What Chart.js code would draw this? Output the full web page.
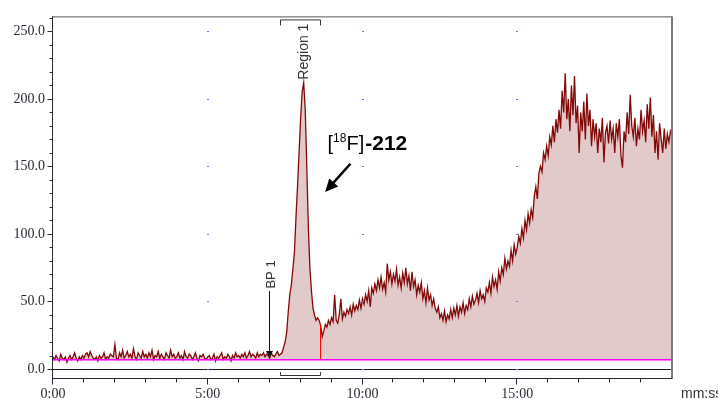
<!DOCTYPE html>
<html>
<head>
<meta charset="utf-8">
<script src="https://cdn.jsdelivr.net/npm/chart.js@4.4.1/dist/chart.umd.min.js"></script>
<style>
html,body{margin:0;padding:0;background:#fff;overflow:hidden}
canvas{display:block}
</style>
</head>
<body>
<canvas id="c" width="718" height="399"></canvas>
<script>
// ---- data ----
const sampleStepMin = 0.05;          // sampling interval of the trace (minutes)
const signal = [
  // 0:00
  9,7,10,8,6,11,8,7,9,5,8,10,7,9,12,8,6,9,7,10,
  // 1:00
  8,11,12,9,13,10,8,7,9,6,10,8,9,12,7,9,8,11,10,9,
  // 2:00
  18,8,7,12,9,14,8,10,13,9,11,8,15,9,7,12,10,8,13,9,
  // 3:00
  11,8,12,9,14,7,10,9,13,8,11,9,7,12,10,8,14,9,11,8,
  // 4:00
  9,12,8,10,7,13,9,8,11,10,7,9,12,8,6,10,9,11,8,7,
  // 5:00
  9,10,7,8,11,6,9,8,10,12,7,9,8,11,9,6,10,8,12,9,
  // 6:00
  10,8,11,9,12,8,10,13,9,11,10,8,12,9,11,10,12,9,11,10,
  // 7:00
  8,12,10,9,11,13,10,11,12,16,20,27,42,55,62,74,86,112,135,160,
  // 8:00
  185,205,212,192,150,105,75,58,45,40,36,38,36,32,24,28,33,31,36,33,
  // 9:00
  38,35,55,36,34,40,52,37,42,39,44,41,46,40,48,43,47,44,51,45,
  // 10:00
  52,48,55,50,58,46,60,56,63,58,66,60,68,59,64,57,78,66,72,63,
  // 11:00
  70,65,74,62,68,60,71,64,75,63,69,58,72,61,66,55,62,57,64,52,
  // 12:00
  58,49,60,51,55,47,52,45,42,46,38,41,36,43,35,40,37,44,38,45,
  // 13:00
  40,47,39,46,42,49,41,47,44,52,46,54,48,51,56,49,58,52,55,50,
  // 14:00
  60,57,64,56,68,61,66,59,72,65,75,70,82,74,80,76,88,80,92,85,
  // 15:00
  90,98,93,104,97,110,103,115,108,118,112,128,135,126,145,150,146,160,155,165,
  // 16:00
  158,172,166,180,168,185,175,192,178,206,190,219,185,200,176,210,188,217,182,195,
  // 17:00
  160,190,176,198,170,204,180,192,165,185,172,182,160,178,168,186,153,175,180,167,
  // 18:00
  184,170,178,160,182,172,185,158,149,176,168,190,174,203,180,172,186,165,178,170,
  // 19:00
  192,176,184,168,196,178,201,172,188,160,176,155,182,170,160,178,163,174,168,176,
  // 20:00
  173
];
const baselineLevel = 7.0;           // integration baseline (magenta)
const yTickValues = [0, 50, 100, 150, 200, 250];
const yMinorStep = 10;
const xTickMinutes = [0, 5, 10, 15];
const xMinorStep = 1;
const xRange = [0, 20];
const yRange = [-6.66, 261.1];
const xUnitLabel = 'mm:ss';
const regionStart = 7.35, regionEnd = 8.63, regionLabel = 'Region 1';
const bpTime = 6.97, bpLabel = 'BP 1';
const peakNameParts = { open: '[', iso: '18', elem: 'F]', code: '-212' };
const peakNameAnchor = { t: 8.87, v: 162 };
const peakArrowFrom = { t: 9.61, v: 152 };
const peakArrowTo = { t: 8.79, v: 131 };
const bpArrowTop = 57.7, bpArrowTip = 8.2, bpLabelCenter = 70;
const regionLabelCenter = 235;

// ---- helpers ----
function valueAt(t) {
  const f = t / sampleStepMin;
  const i = Math.floor(f), r = f - i;
  const a = signal[i], b = signal[Math.min(i + 1, signal.length - 1)];
  return a + (b - a) * r;
}
function fmtMin(v) { return v + ':00'; }

const seriesPoints = signal.map((v, i) => ({ x: +(i * sampleStepMin).toFixed(2), y: v }));

const AXIS = '#2a2a36';

const overlay = {
  id: 'overlay',
  beforeDraw(chart) {
    const c = chart.ctx;
    c.save(); c.fillStyle = '#fff'; c.fillRect(0, 0, chart.width, chart.height); c.restore();
  },
  afterDatasetsDraw(chart) {
    const { ctx, scales: { x, y }, chartArea: a } = chart;
    ctx.save();
    // zero line
    const y0 = Math.round(y.getPixelForValue(0)) + 0.5;
    ctx.strokeStyle = '#1a1a1a'; ctx.lineWidth = 1;
    ctx.beginPath(); ctx.moveTo(a.left, y0); ctx.lineTo(a.right, y0); ctx.stroke();
    // integration baseline (magenta), drawn over the trace
    const yBase = Math.floor(y.getPixelForValue(baselineLevel));
    ctx.fillStyle = '#ff00ff';
    ctx.fillRect(a.left, yBase, a.right - a.left, 1);
    ctx.fillStyle = 'rgba(255,0,255,0.55)';
    ctx.fillRect(a.left, yBase + 1, a.right - a.left, 1);
    // grid dots
    ctx.fillStyle = '#6f6fff';
    xTickMinutes.filter(m => m > xRange[0]).forEach(m => {
      const px = Math.round(x.getPixelForValue(m));
      yTickValues.forEach(v => {
        const py = Math.round(y.getPixelForValue(v));
        ctx.fillRect(px - 1, py, 2, 1);
      });
    });
    // region end marker (red)
    const xr = Math.round(x.getPixelForValue(regionEnd));
    const yTopR = Math.round(y.getPixelForValue(valueAt(regionEnd)));
    ctx.fillStyle = '#ff0000';
    ctx.fillRect(xr, yTopR, 1, yBase - yTopR);
    ctx.restore();
  },
  afterDraw(chart) {
    const { ctx, scales: { x, y }, chartArea: a } = chart;
    ctx.save();
    ctx.lineWidth = 1;
    // top border
    ctx.strokeStyle = '#555';
    ctx.beginPath(); ctx.moveTo(a.left - 1, a.top + 0.5); ctx.lineTo(a.right, a.top + 0.5); ctx.stroke();
    // right border
    ctx.fillStyle = '#7a7a7a';
    ctx.fillRect(a.right - 1, a.top, 2, a.bottom - a.top + 1);
    // y axis line + ticks
    ctx.strokeStyle = AXIS;
    const xl = a.left - 0.5;
    ctx.beginPath(); ctx.moveTo(xl, a.top); ctx.lineTo(xl, a.bottom + 6); ctx.stroke();
    for (let v = Math.ceil(yRange[0] / yMinorStep) * yMinorStep; v <= yRange[1]; v += yMinorStep) {
      const py = Math.round(y.getPixelForValue(v)) + 0.5;
      const major = yTickValues.includes(v);
      ctx.beginPath(); ctx.moveTo(xl - (major ? 5 : 3), py); ctx.lineTo(xl, py); ctx.stroke();
    }
    // x axis line + ticks
    const yb = a.bottom + 0.5;
    ctx.beginPath(); ctx.moveTo(xl, yb); ctx.lineTo(a.right, yb); ctx.stroke();
    for (let m = xRange[0]; m < xRange[1]; m += xMinorStep) {
      const px = Math.round(x.getPixelForValue(m)) - 0.5;
      const major = xTickMinutes.includes(m);
      ctx.beginPath(); ctx.moveTo(px, yb); ctx.lineTo(px, yb + (major ? 6 : 4)); ctx.stroke();
    }
    // unit label
    ctx.fillStyle = '#333';
    ctx.font = '14px "Liberation Sans", Arial, sans-serif';
    ctx.textAlign = 'left'; ctx.textBaseline = 'alphabetic';
    ctx.fillText(xUnitLabel, 681, 397.5);

    // region brackets
    const xs = Math.round(x.getPixelForValue(regionStart)) + 0.5;
    const xe = Math.round(x.getPixelForValue(regionEnd)) + 0.5;
    ctx.strokeStyle = '#333';
    ctx.beginPath();
    ctx.moveTo(xs, a.top + 9); ctx.lineTo(xs, a.top + 3.5); ctx.lineTo(xe, a.top + 3.5); ctx.lineTo(xe, a.top + 9);
    ctx.stroke();
    ctx.beginPath();
    ctx.moveTo(xs, a.bottom - 6); ctx.lineTo(xs, a.bottom - 2.5); ctx.lineTo(xe, a.bottom - 2.5); ctx.lineTo(xe, a.bottom - 6);
    ctx.stroke();
    // region label (rotated)
    ctx.save();
    ctx.translate((xs + xe) / 2 + 7.5, y.getPixelForValue(regionLabelCenter));
    ctx.rotate(-Math.PI / 2);
    ctx.font = '14px "Liberation Sans", Arial, sans-serif';
    ctx.textAlign = 'center'; ctx.textBaseline = 'alphabetic';
    ctx.fillStyle = '#333';
    ctx.fillText(regionLabel, 0, 0);
    ctx.restore();

    // BP marker
    const xb = Math.round(x.getPixelForValue(bpTime)) + 0.5;
    const yTop = y.getPixelForValue(bpArrowTop), yTip = y.getPixelForValue(bpArrowTip);
    ctx.strokeStyle = '#111';
    ctx.beginPath(); ctx.moveTo(xb, yTop); ctx.lineTo(xb, yTip - 5); ctx.stroke();
    ctx.fillStyle = '#111';
    ctx.beginPath(); ctx.moveTo(xb - 3.5, yTip - 7); ctx.lineTo(xb + 3.5, yTip - 7); ctx.lineTo(xb, yTip); ctx.closePath(); ctx.fill();
    ctx.save();
    ctx.translate(xb + 5, y.getPixelForValue(bpLabelCenter));
    ctx.rotate(-Math.PI / 2);
    ctx.font = '13px "Liberation Sans", Arial, sans-serif';
    ctx.textAlign = 'center'; ctx.textBaseline = 'alphabetic';
    ctx.fillStyle = '#333';
    ctx.fillText(bpLabel, 0, 0);
    ctx.restore();

    // peak name
    let tx = x.getPixelForValue(peakNameAnchor.t);
    const ty = y.getPixelForValue(peakNameAnchor.v);
    ctx.fillStyle = '#000';
    ctx.textAlign = 'left'; ctx.textBaseline = 'alphabetic';
    ctx.font = '20px "Liberation Sans", Arial, sans-serif';
    ctx.fillText(peakNameParts.open, tx, ty); tx += ctx.measureText(peakNameParts.open).width;
    ctx.font = '12px "Liberation Sans", Arial, sans-serif';
    ctx.fillText(peakNameParts.iso, tx, ty - 8.5); tx += ctx.measureText(peakNameParts.iso).width;
    ctx.font = '20px "Liberation Sans", Arial, sans-serif';
    ctx.fillText(peakNameParts.elem, tx, ty); tx += ctx.measureText(peakNameParts.elem).width;
    ctx.font = 'bold 21px "Liberation Sans", Arial, sans-serif';
    ctx.fillText(peakNameParts.code, tx + 1, ty);

    // peak arrow
    const ax0 = x.getPixelForValue(peakArrowFrom.t), ay0 = y.getPixelForValue(peakArrowFrom.v);
    const ax1 = x.getPixelForValue(peakArrowTo.t), ay1 = y.getPixelForValue(peakArrowTo.v);
    const ang = Math.atan2(ay1 - ay0, ax1 - ax0);
    const hl = 13, hw = 6;
    const bx = ax1 - hl * Math.cos(ang), by = ay1 - hl * Math.sin(ang);
    ctx.strokeStyle = '#000'; ctx.lineWidth = 2.5;
    ctx.beginPath(); ctx.moveTo(ax0, ay0); ctx.lineTo(bx + 2 * Math.cos(ang), by + 2 * Math.sin(ang)); ctx.stroke();
    ctx.fillStyle = '#000';
    ctx.beginPath();
    ctx.moveTo(ax1, ay1);
    ctx.lineTo(bx + hw * Math.sin(ang), by - hw * Math.cos(ang));
    ctx.lineTo(bx - hw * Math.sin(ang), by + hw * Math.cos(ang));
    ctx.closePath(); ctx.fill();
    ctx.restore();
  }
};

new Chart(document.getElementById('c'), {
  type: 'line',
  data: {
    datasets: [
      {
        label: 'signal',
        data: seriesPoints,
        borderColor: '#820808',
        borderWidth: 1.3,
        backgroundColor: '#e3caca',
        pointRadius: 0,
        tension: 0,
        fill: { value: baselineLevel }
      }
    ]
  },
  options: {
    responsive: false,
    devicePixelRatio: 1,
    animation: false,
    events: [],
    layout: { padding: { left: 0, right: 46, top: 16, bottom: 0 } },
    plugins: { legend: { display: false }, tooltip: { enabled: false } },
    scales: {
      x: {
        type: 'linear',
        min: xRange[0], max: xRange[1],
        grid: { display: false, drawTicks: false },
        border: { display: false },
        afterBuildTicks: s => { s.ticks = xTickMinutes.map(v => ({ value: v })); },
        afterFit: s => { s.height = 21; },
        ticks: {
          padding: 8,
          maxRotation: 0,
          autoSkip: false,
          color: AXIS,
          font: { family: '"Liberation Serif", "Times New Roman", serif', size: 14 },
          callback: v => fmtMin(v)
        }
      },
      y: {
        type: 'linear',
        min: yRange[0], max: yRange[1],
        grid: { display: false, drawTicks: false },
        border: { display: false },
        afterBuildTicks: s => { s.ticks = yTickValues.map(v => ({ value: v })); },
        afterFit: s => { s.width = 53; },
        ticks: {
          padding: 8,
          autoSkip: false,
          color: AXIS,
          font: { family: '"Liberation Serif", "Times New Roman", serif', size: 14 },
          callback: v => Number(v).toFixed(1)
        }
      }
    }
  },
  plugins: [overlay]
});
</script>
</body>
</html>
